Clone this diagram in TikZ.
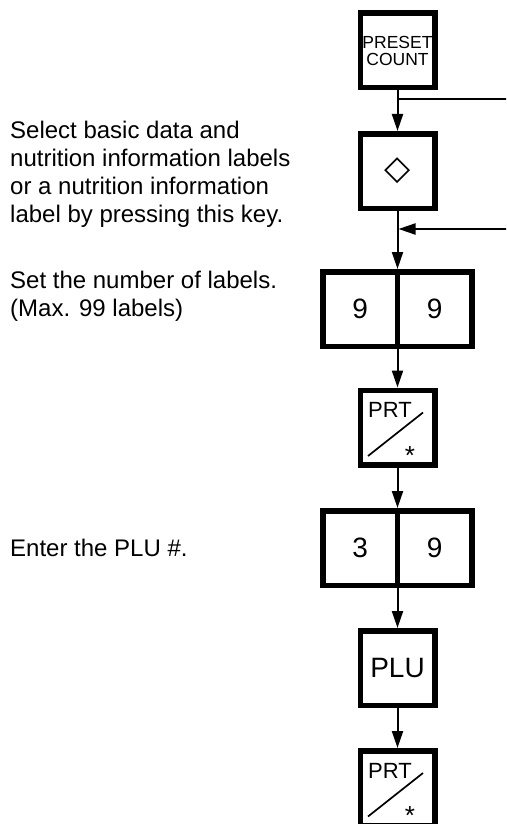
\documentclass[tikz,border=0pt]{standalone}
\usepackage{fontspec}
\setmainfont{Liberation Sans}
\newfontfamily\symfont{DejaVu Sans}
\usetikzlibrary{arrows.meta}

\begin{document}
\begin{tikzpicture}[x=1pt,y=-1pt,
  keybox/.style={draw, line width=5.5pt, minimum width=74.5pt, minimum height=74.5pt, inner sep=0pt},
  digit/.style={keybox, font=\fontsize{28}{28}\selectfont},
  flow/.style={line width=2pt, -{Triangle[length=17pt,width=11pt]}},
  plain/.style={line width=2pt},
  note/.style={anchor=west, align=left, inner sep=0pt, font=\fontsize{24}{28}\selectfont}]
\useasboundingbox (0,0) rectangle (506,824);
\clip (0,0) rectangle (506,824);

\node[keybox, font=\fontsize{17.5}{17}\selectfont, align=center] (preset) at (397.5,50.5) {PRESET\\COUNT};
\node[keybox, font={\symfont\bfseries\fontsize{34}{34}\selectfont}] (diam) at (397.5,171) {◇};
\node[digit] (nineL) at (360.25,309) {9};
\node[digit] (nineR) at (434.75,309) {9};
\node[keybox] (prt1) at (397.5,427.5) {};
\node[digit] (threeL) at (360.25,548) {3};
\node[digit] (threeR) at (434.75,548) {9};
\node[keybox, font=\fontsize{28}{28}\selectfont] (plu) at (397.5,668) {PLU};
\node[keybox] (prt2) at (397.5,788) {};

\foreach \k in {prt1,prt2} {
  \node[font=\fontsize{22}{22}\selectfont, inner sep=0pt] (\k-t) at ([shift={(-7.5,-17.5)}]\k.center) {PRT};
  \node[font=\fontsize{26}{26}\selectfont, inner sep=0pt] (\k-s) at ([shift={(12.5,21.5)}]\k.center) {\raisebox{-0.43em}[0.3em][0pt]{*}};
  \draw[line width=1.7pt] ([shift={(-29.5,28.5)}]\k.center) -- ([shift={(25.5,-15)}]\k.center);
}

\node[note] (selnote) at (10,174) {Select basic data and\\nutrition information labels\\or a nutrition information\\label by pressing this key.};
\node[note] (setnote) at (10,296) {Set the number of labels.\\(Max. 99 labels)};
\node[note] (plunote) at (10,548) {Enter the PLU \#.};

\coordinate (split) at (397.5,99);
\coordinate (exitR) at (510,99);
\coordinate (join) at (398.5,229);
\coordinate (entryR) at (510,229);
\draw[flow] (preset) -- (diam);
\draw[plain] (split) -- (exitR);
\draw[flow] (entryR) -- (join);
\draw[flow] (diam) -- (diam |- nineL.north);
\draw[flow] (prt1 |- nineL.south) -- (prt1);
\draw[flow] (prt1) -- (prt1 |- threeL.north);
\draw[flow] (plu |- threeL.south) -- (plu);
\draw[flow] (plu) -- (prt2);
\end{tikzpicture}
\end{document}
